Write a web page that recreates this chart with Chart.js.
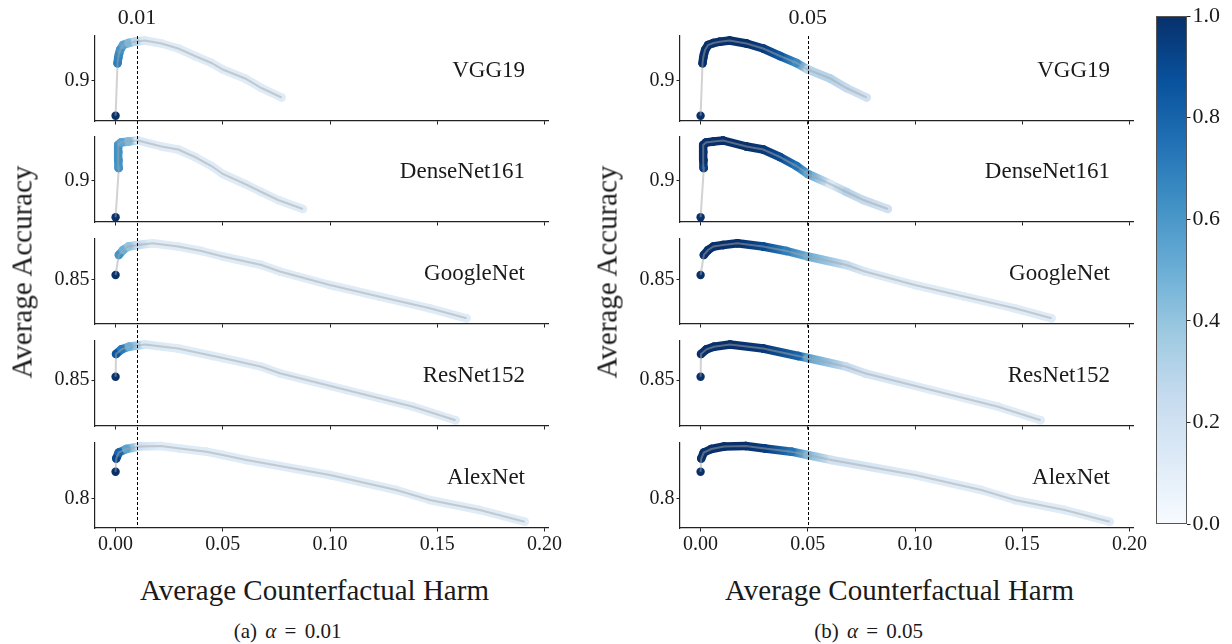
<!DOCTYPE html>
<html>
<head>
<meta charset="utf-8">
<title>Average accuracy vs counterfactual harm</title>
<script src="https://cdn.jsdelivr.net/npm/chart.js@4.4.1/dist/chart.umd.min.js"></script>
<style>
  html, body { margin: 0; padding: 0; background: #fff; }
  #fig { position: relative; width: 1232px; height: 644px; overflow: hidden; font-family: "Liberation Serif", serif; color: #1a1a1a; }
  #fig canvas { position: absolute; }
  .txt { position: absolute; white-space: nowrap; line-height: 1; transform: translate(-50%, -50%); }
</style>
</head>
<body>
<div id="fig"></div>
<script>
// values: x = average counterfactual harm, y = average accuracy
const models = ["VGG19", "DenseNet161", "GoogleNet", "ResNet152", "AlexNet"];
const alphas = [0.01, 0.05];
const captionLetters = ["(a)", "(b)"];
const xTicks = [0, 0.05, 0.1, 0.15, 0.2];
const yTicks = [0.9, 0.9, 0.85, 0.85, 0.8];
const yLow = [0.860, 0.8585, 0.8055, 0.804, 0.771];
const yHigh = [0.945, 0.9435, 0.8905, 0.889, 0.856];
const colorbarTicks = [0, 0.2, 0.4, 0.6, 0.8, 1.0];

const vgg19Harm = [0, 0.0009, 0.0012, 0.0016, 0.0021, 0.0035, 0.006, 0.009, 0.0135, 0.0214, 0.0292, 0.037, 0.0447, 0.05, 0.0604, 0.068, 0.0774];
const vgg19Acc = [0.8653, 0.9177, 0.923, 0.927, 0.931, 0.936, 0.938, 0.9393, 0.9405, 0.9375, 0.9325, 0.925, 0.918, 0.9115, 0.9025, 0.893, 0.8835];
const vgg19ShadeA = [1, 0.7, 0.68, 0.66, 0.62, 0.55, 0.45, 0.3, 0.14, 0.12, 0.12, 0.12, 0.12, 0.12, 0.12, 0.12, 0.12];
const vgg19ShadeB = [1, 1, 1, 1, 1, 1, 1, 1, 1, 1, 0.95, 0.85, 0.65, 0.3, 0.3, 0.25, 0.2];

const densenetHarm = [0, 0.0015, 0.0013, 0.0012, 0.0012, 0.0025, 0.006, 0.0105, 0.0214, 0.0292, 0.037, 0.0447, 0.05, 0.0604, 0.068, 0.0758, 0.0873];
const densenetAcc = [0.8632, 0.9125, 0.9205, 0.9285, 0.9355, 0.938, 0.939, 0.940, 0.934, 0.931, 0.9235, 0.9145, 0.9065, 0.8965, 0.8885, 0.8805, 0.8715];
const densenetShadeA = [1, 0.62, 0.63, 0.63, 0.62, 0.55, 0.45, 0.15, 0.12, 0.12, 0.12, 0.12, 0.12, 0.12, 0.12, 0.12, 0.12];
const densenetShadeB = [1, 0.95, 1, 1, 1, 1, 1, 1, 1, 0.97, 0.9, 0.75, 0.55, 0.15, 0.3, 0.25, 0.2];

const googlenetHarm = [0, 0.0015, 0.0035, 0.006, 0.0105, 0.0172, 0.0292, 0.04, 0.05, 0.068, 0.0766, 0.0999, 0.1232, 0.1465, 0.1636];
const googlenetAcc = [0.8545, 0.8745, 0.8795, 0.883, 0.8845, 0.8862, 0.883, 0.8785, 0.873, 0.8645, 0.858, 0.8445, 0.8328, 0.8212, 0.8112];
const googlenetShadeA = [1, 0.62, 0.5, 0.4, 0.25, 0.12, 0.12, 0.12, 0.12, 0.12, 0.12, 0.12, 0.12, 0.12, 0.12];
const googlenetShadeB = [1, 1, 1, 1, 1, 1, 0.9, 0.7, 0.5, 0.25, 0.15, 0.12, 0.12, 0.12, 0.12];

const resnetHarm = [0, 0.0002, 0.0028, 0.0062, 0.0137, 0.0292, 0.0455, 0.05, 0.068, 0.0766, 0.1076, 0.1387, 0.1585];
const resnetAcc = [0.8533, 0.876, 0.8807, 0.8833, 0.8855, 0.8815, 0.874, 0.872, 0.8633, 0.8567, 0.84, 0.8233, 0.8097];
const resnetShadeA = [1, 0.85, 0.72, 0.5, 0.15, 0.12, 0.12, 0.12, 0.12, 0.12, 0.12, 0.12, 0.12];
const resnetShadeB = [1, 1, 1, 1, 1, 0.97, 0.8, 0.55, 0.25, 0.18, 0.12, 0.12, 0.12];

const alexnetHarm = [0, 0.0003, 0.0015, 0.005, 0.011, 0.021, 0.03, 0.0424, 0.05, 0.061, 0.0999, 0.1309, 0.1465, 0.1698, 0.1907];
const alexnetAcc = [0.8273, 0.8405, 0.8465, 0.85, 0.8525, 0.853, 0.8505, 0.8473, 0.844, 0.839, 0.824, 0.809, 0.799, 0.789, 0.7773];
const alexnetShadeA = [1, 0.92, 0.8, 0.55, 0.2, 0.12, 0.12, 0.12, 0.12, 0.12, 0.12, 0.12, 0.12, 0.12, 0.12];
const alexnetShadeB = [1, 1, 1, 1, 1, 1, 0.95, 0.75, 0.45, 0.2, 0.12, 0.12, 0.12, 0.12, 0.12];

const harms = [vgg19Harm, densenetHarm, googlenetHarm, resnetHarm, alexnetHarm];
const accs = [vgg19Acc, densenetAcc, googlenetAcc, resnetAcc, alexnetAcc];
const shades = [
  [vgg19ShadeA, densenetShadeA, googlenetShadeA, resnetShadeA, alexnetShadeA],
  [vgg19ShadeB, densenetShadeB, googlenetShadeB, resnetShadeB, alexnetShadeB]
];

// layout (pixels)
const rowTop = [36, 137, 239, 341, 443];
const plotH = 85;
const colLeft = [95, 680];
const plotW = 453;
const yAxisW = 95;
const padR = 24;
const FONT = "Liberation Serif";
const INK = "#1a1a1a";

// matplotlib "Blues"
const bluesStops = ["#f7fbff", "#deebf7", "#c6dbef", "#9ecae1", "#6baed6", "#4292c6", "#2171b5", "#08519c", "#08306b"];
function hexRgb(h) {
  return [parseInt(h.slice(1, 3), 16), parseInt(h.slice(3, 5), 16), parseInt(h.slice(5, 7), 16)];
}
function blues(t) {
  t = Math.max(0, Math.min(1, t));
  const s = t * 8;
  const i = Math.min(7, Math.floor(s));
  const f = s - i;
  const a = hexRgb(bluesStops[i]), b = hexRgb(bluesStops[i + 1]);
  const c = a.map((v, k) => Math.round(v + (b[k] - v) * f));
  return "rgb(" + c.join(",") + ")";
}

const fig = document.getElementById("fig");

function addText(html, cx, cy, size, extra) {
  const d = document.createElement("div");
  d.className = "txt";
  d.innerHTML = html;
  d.style.left = cx + "px";
  d.style.top = cy + "px";
  d.style.fontSize = size + "px";
  if (extra) Object.assign(d.style, extra);
  fig.appendChild(d);
  return d;
}

function addCanvas(left, top, w, h) {
  const c = document.createElement("canvas");
  c.width = w;
  c.height = h;
  c.style.left = left + "px";
  c.style.top = top + "px";
  c.style.width = w + "px";
  c.style.height = h + "px";
  fig.appendChild(c);
  return c;
}

// dashed threshold line at x = alpha
const thresholdLine = {
  id: "thresholdLine",
  afterDatasetsDraw(chart, args, opts) {
    const x = Math.round(chart.scales.x.getPixelForValue(opts.value)) + 0.5;
    const ctx = chart.ctx;
    ctx.save();
    ctx.strokeStyle = "#000";
    ctx.lineWidth = 1;
    ctx.setLineDash([3, 2]);
    ctx.beginPath();
    ctx.moveTo(x, opts.first ? chart.chartArea.top : 0);
    ctx.lineTo(x, chart.chartArea.bottom);
    ctx.stroke();
    ctx.restore();
  }
};

function makePanel(col, row) {
  const last = row === 4;
  const padTop = 16;
  const xAxisH = last ? 40 : 16;
  const left = colLeft[col] - yAxisW;
  const top = rowTop[row] - padTop;
  const canvas = addCanvas(left, top, yAxisW + plotW + padR, padTop + plotH + xAxisH);

  const pts = harms[row].map((x, i) => ({ x: x, y: accs[row][i] }));
  const shade = shades[col][row];

  new Chart(canvas, {
    type: "scatter",
    data: {
      datasets: [
        {
          // thin grey line joining the points
          data: pts,
          showLine: true,
          borderColor: "rgba(165,165,165,0.5)",
          borderWidth: 2,
          pointRadius: 0,
          clip: false
        },
        {
          // the coloured markers
          data: pts,
          showLine: true,
          borderWidth: 8.5,
          borderCapStyle: "round",
          borderJoinStyle: "round",
          pointRadius: 4.2,
          pointBorderWidth: 0,
          pointBackgroundColor: shade.map(v => blues(v)),
          clip: false,
          segment: {
            borderColor: c => {
              if (c.p0DataIndex === 0) return "rgba(0,0,0,0)";
              const g = c.chart.ctx.createLinearGradient(c.p0.x, c.p0.y, c.p1.x, c.p1.y);
              g.addColorStop(0, blues(shade[c.p0DataIndex]));
              g.addColorStop(1, blues(shade[c.p1DataIndex]));
              return g;
            },
            borderDashOffset: c => c.p0DataIndex
          }
        }
      ]
    },
    options: {
      responsive: false,
      animation: false,
      devicePixelRatio: 1,
      events: [],
      layout: { padding: { top: padTop, right: padR, left: 0, bottom: 0 } },
      plugins: {
        legend: { display: false },
        tooltip: { enabled: false },
        thresholdLine: { value: alphas[col], first: row === 0 }
      },
      scales: {
        x: {
          type: "linear",
          min: -0.0096,
          max: 0.2016,
          afterBuildTicks: s => { s.ticks = xTicks.map(v => ({ value: v })); },
          afterFit: s => { s.height = xAxisH; },
          ticks: {
            display: last,
            autoSkip: false,
            maxRotation: 0,
            padding: 1,
            color: INK,
            font: { family: FONT, size: 20 },
            callback: v => v.toFixed(2)
          },
          grid: { drawOnChartArea: false, drawTicks: true, tickLength: 3.5, color: "#222", lineWidth: 1 },
          border: { display: true, color: "#222", width: 1.2 }
        },
        y: {
          type: "linear",
          min: yLow[row],
          max: yHigh[row],
          afterBuildTicks: s => { s.ticks = [{ value: yTicks[row] }]; },
          afterFit: s => { s.width = yAxisW; },
          ticks: {
            padding: 2,
            color: INK,
            font: { family: FONT, size: 20 },
            callback: v => String(v)
          },
          grid: { drawOnChartArea: false, drawTicks: true, tickLength: 3.5, color: "#222", lineWidth: 1 },
          border: { display: true, color: "#222", width: 1.2 }
        }
      }
    },
    plugins: [thresholdLine]
  });

  // model name inside the panel
  addText(models[row], 0, rowTop[row] + 32.5, 23, {
    left: "auto",
    right: (1232 - (colLeft[col] + plotW - 23)) + "px",
    transform: "translate(0, -50%)"
  });
}

for (let col = 0; col < 2; col++) {
  for (let row = 0; row < 5; row++) makePanel(col, row);
  const cx = colLeft[col];
  const zeroPx = cx + plotW * (0.0096 / 0.2112);
  const thrPx = cx + plotW * ((alphas[col] + 0.0096) / 0.2112);
  addText(alphas[col].toFixed(2), thrPx, 17, 22);
  addText("Average Counterfactual Harm", cx + plotW / 2 - 7, 590, 29);
  addText("Average Accuracy", cx - 73, 272, 29, { transform: "translate(-50%, -50%) rotate(-90deg)" });
  addText(captionLetters[col] + " <i>α</i> = " + alphas[col].toFixed(2), zeroPx + (col === 0 ? 172 : 168), 631, 21,
    { wordSpacing: "3px" });
}

// colour bar
const cbLeft = 1156, cbTop = 16, cbW = 31, cbH = 508, cbAxisW = 52, cbPad = 16;
const cbCanvas = addCanvas(cbLeft, cbTop - cbPad, cbW + cbAxisW, cbH + 2 * cbPad);
const colorbarFill = {
  id: "colorbarFill",
  beforeDatasetsDraw(chart) {
    const a = chart.chartArea, ctx = chart.ctx;
    const g = ctx.createLinearGradient(0, a.bottom, 0, a.top);
    bluesStops.forEach((h, i) => g.addColorStop(i / 8, h));
    ctx.save();
    ctx.fillStyle = g;
    ctx.fillRect(a.left, a.top, a.right - a.left, a.bottom - a.top);
    ctx.strokeStyle = "#555";
    ctx.lineWidth = 1;
    ctx.strokeRect(a.left + 0.5, a.top + 0.5, a.right - a.left - 1, a.bottom - a.top - 1);
    ctx.restore();
  }
};
new Chart(cbCanvas, {
  type: "scatter",
  data: { datasets: [] },
  options: {
    responsive: false,
    animation: false,
    devicePixelRatio: 1,
    events: [],
    layout: { padding: { top: cbPad, bottom: cbPad, left: 0, right: 0 } },
    plugins: { legend: { display: false }, tooltip: { enabled: false } },
    scales: {
      x: { display: false, min: 0, max: 1 },
      y: {
        position: "right",
        min: 0,
        max: 1,
        afterBuildTicks: s => { s.ticks = colorbarTicks.map(v => ({ value: v })); },
        afterFit: s => { s.width = cbAxisW; },
        ticks: { padding: 2, color: INK, font: { family: FONT, size: 22 }, callback: v => v.toFixed(1) },
        grid: { drawOnChartArea: false, drawTicks: true, tickLength: 3.5, color: "#222" },
        border: { display: false }
      }
    }
  },
  plugins: [colorbarFill]
});
</script>
</body>
</html>
